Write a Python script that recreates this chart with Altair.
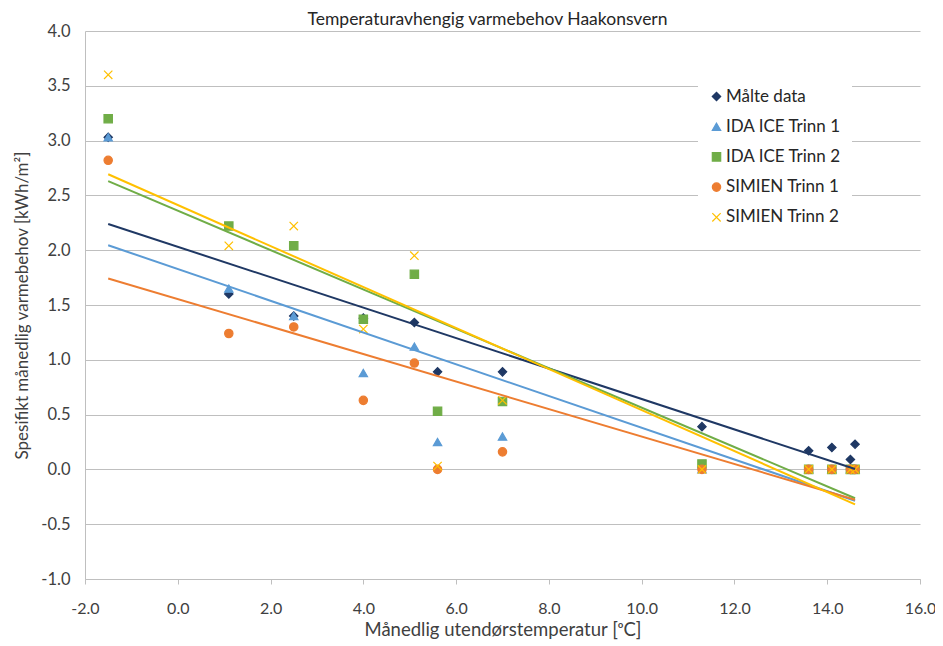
import altair as alt
import pandas as pd

temps = [-1.5, 1.1, 2.5, 4.0, 5.1, 5.6, 7.0, 11.3, 13.6, 14.1, 14.5, 14.6]
series_names = ["Målte data", "IDA ICE Trinn 1", "IDA ICE Trinn 2", "SIMIEN Trinn 1", "SIMIEN Trinn 2"]
malte = [3.03, 1.60, 1.40, 1.38, 1.34, 0.89, 0.89, 0.39, 0.17, 0.20, 0.09, 0.23]
ida1 = [3.03, 1.65, 1.40, 0.88, 1.12, 0.25, 0.30, 0.0, 0.0, 0.0, 0.0, 0.0]
ida2 = [3.20, 2.22, 2.04, 1.37, 1.78, 0.53, 0.62, 0.05, 0.0, 0.0, 0.0, 0.0]
sim1 = [2.82, 1.24, 1.30, 0.63, 0.97, 0.0, 0.16, 0.0, 0.0, 0.0, 0.0, 0.0]
sim2 = [3.60, 2.04, 2.22, 1.28, 1.95, 0.03, 0.63, 0.0, 0.0, 0.0, 0.0, 0.0]
colors = ["#1F3864", "#5B9BD5", "#70AD47", "#ED7D31", "#FFC000"]
shapes = ["diamond", "triangle-up", "square", "circle", "M-1,-1L1,1M-1,1L1,-1"]

rows = []
for name, vals in zip(series_names, [malte, ida1, ida2, sim1, sim2]):
    for t, v in zip(temps, vals):
        rows.append({"temp": t, "val": v, "series": name})
df = pd.DataFrame(rows)

FONT = "Lato"
TXT = "#404040"
FIXMINUS = "replace(datum.label, '\u2212', '-')"

cscale = alt.Scale(domain=series_names, range=colors)
sscale = alt.Scale(domain=series_names, range=shapes)

xenc = alt.X("temp:Q", scale=alt.Scale(domain=[-2, 16], nice=False),
             axis=alt.Axis(values=[-2, 0, 2, 4, 6, 8, 10, 12, 14, 16], format=".1f",
                           labelExpr=FIXMINUS,
                           title="Månedlig utendørstemperatur [ᵒC]", grid=False,
                           tickSize=5, labelPadding=16, titlePadding=4,
                           labelFlush=False, labelFontSize=16, titleFontSize=18.5))
yenc = alt.Y("val:Q", scale=alt.Scale(domain=[-1, 4], nice=False),
             axis=alt.Axis(values=[-1, -0.5, 0, 0.5, 1, 1.5, 2, 2.5, 3, 3.5, 4], format=".1f",
                           labelExpr=FIXMINUS,
                           title="Spesifikt månedlig varmebehov [kWh/m²]", ticks=False,
                           domain=True, labelFlush=False,
                           labelPadding=15, titlePadding=9, labelFontSize=16.5, titleFontSize=17))

legend = alt.Legend(title=None, orient="none", legendX=613, legendY=47,
                    fillColor="white", padding=10, labelFontSize=17, labelFont=FONT,
                    labelColor="#262626", rowPadding=12.2, symbolSize=70, labelOffset=1,
                    symbolStrokeWidth=1.2)

points = alt.Chart(df).mark_point(filled=True, size=70, strokeWidth=1.2, opacity=1).encode(
    x=xenc, y=yenc,
    fill=alt.Fill("series:N", scale=cscale, legend=legend, sort=series_names),
    stroke=alt.Stroke("series:N", scale=cscale, legend=legend, sort=series_names),
    shape=alt.Shape("series:N", scale=sscale, legend=legend, sort=series_names),
)

lines = alt.Chart(df).transform_regression(
    "temp", "val", groupby=["series"]
).mark_line(strokeWidth=2).encode(
    x="temp:Q", y="val:Q",
    color=alt.Color("series:N", scale=cscale, legend=None),
)

chart = alt.layer(points, lines).properties(
    width=835, height=548,
    title=alt.Title("Temperaturavhengig varmebehov Haakonsvern", fontSize=17.5, font=FONT,
                    fontWeight="normal", color="#262626", offset=0, dy=5,
                    anchor="middle", dx=-15),
    padding={"left": 77, "top": 23, "right": 15, "bottom": 70},
    autosize=alt.AutoSizeParams(type="none"),
).configure_view(stroke=None).configure_axis(
    labelFont=FONT, titleFont=FONT,
    labelColor=TXT, titleColor=TXT, titleFontWeight="normal",
    domainColor="#BFBFBF", tickColor="#BFBFBF", gridColor="#BFBFBF", gridWidth=1,
)

chart.save("out.html", embed_options={"renderer": "svg", "actions": False})
